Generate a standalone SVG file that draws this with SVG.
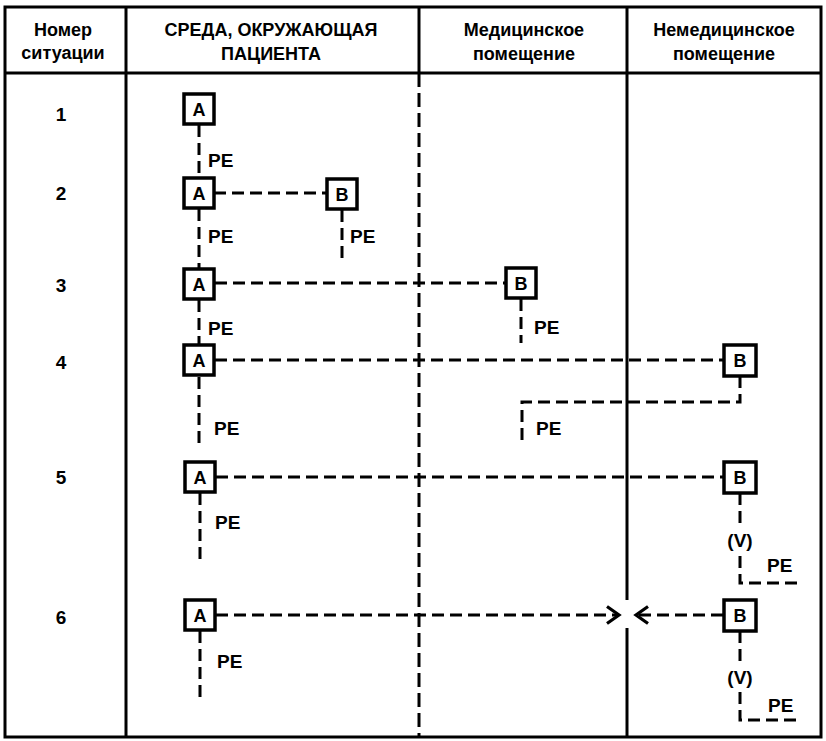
<svg xmlns="http://www.w3.org/2000/svg" width="826" height="741" viewBox="0 0 826 741">
<style>
.frame{fill:none;stroke:#000;stroke-width:3}
.grid{stroke:#000;stroke-width:3;fill:none}
.div{stroke:#000;stroke-width:3;stroke-dasharray:14 6;fill:none}
.dash{fill:none;stroke:#000;stroke-width:3;stroke-dasharray:12 6}
.box{fill:#fff;stroke:#000;stroke-width:3.5}
.t{font-family:"Liberation Sans",Arial,sans-serif;font-weight:bold;fill:#000}
.hdr{font-size:18px;text-anchor:middle}
.num{font-size:19px;text-anchor:middle}
.bl{font-size:18px;text-anchor:middle}
.lbl{font-size:19px}
</style>
<defs>
<marker id="arr" viewBox="-14 -10 16 20" refX="0" refY="0" markerWidth="16" markerHeight="20" markerUnits="userSpaceOnUse" orient="auto" overflow="visible">
<path d="M -12 -8.5 L 0 0 L -12 8.5" fill="none" stroke="#000" stroke-width="3.2" stroke-linejoin="miter"/>
</marker>
</defs>
<rect width="826" height="741" fill="#fff"/>
<g id="table">
<rect class="frame" x="5" y="7" width="816" height="730"/>
<line class="grid" x1="5" y1="73" x2="821" y2="73"/>
<line class="grid" x1="126" y1="7" x2="126" y2="737"/>
<line class="grid" x1="419" y1="7" x2="419" y2="73"/>
<line class="div" x1="419" y1="73" x2="419" y2="737"/>
<line class="grid" x1="627" y1="7" x2="627" y2="600"/>
<line class="grid" x1="627" y1="628" x2="627" y2="737"/>
</g>
<g id="header" class="t hdr">
<text x="63" y="36">Номер</text>
<text x="63" y="59">ситуации</text>
<text x="271" y="36">СРЕДА, ОКРУЖАЮЩАЯ</text>
<text x="271" y="60">ПАЦИЕНТА</text>
<text x="524" y="36">Медицинское</text>
<text x="524" y="60">помещение</text>
<text x="724" y="36">Немедицинское</text>
<text x="724" y="60">помещение</text>
</g>
<g id="rownumbers" class="t num">
<text x="61" y="121">1</text>
<text x="61" y="200">2</text>
<text x="61" y="292">3</text>
<text x="61" y="369">4</text>
<text x="61" y="484">5</text>
<text x="61" y="624">6</text>
</g>
<g id="connectors">
<line class="dash" x1="199" y1="125" x2="199" y2="177"/>
<line class="dash" x1="199" y1="209" x2="199" y2="268"/>
<line class="dash" x1="342" y1="210" x2="342" y2="262"/>
<line class="dash" x1="199" y1="300" x2="199" y2="344"/>
<line class="dash" x1="521" y1="299" x2="521" y2="343"/>
<line class="dash" x1="199" y1="377" x2="199" y2="443"/>
<path class="dash" d="M740 376 V402 H522 V443"/>
<line class="dash" x1="200" y1="493" x2="200" y2="563"/>
<line class="dash" x1="740" y1="493" x2="740" y2="523"/>
<path class="dash" d="M740 556 V583 H798"/>
<line class="dash" x1="200" y1="631" x2="200" y2="702"/>
<line class="dash" x1="740" y1="631" x2="740" y2="662"/>
<path class="dash" d="M740 692 V720 H798"/>
<line class="dash" x1="214" y1="193" x2="326" y2="193"/>
<line class="dash" x1="215" y1="283" x2="505" y2="283"/>
<line class="dash" x1="215" y1="360" x2="723" y2="360"/>
<line class="dash" x1="216" y1="477" x2="723" y2="477"/>
<line class="dash" x1="216" y1="615" x2="619" y2="615" marker-end="url(#arr)"/>
<line class="dash" x1="723" y1="615" x2="636" y2="615" marker-end="url(#arr)"/>
</g>
<g id="A1"><rect class="box" x="184" y="94" width="30" height="30"/><text class="t bl" x="199" y="115.5">A</text></g>
<g id="A2"><rect class="box" x="184" y="178" width="30" height="30"/><text class="t bl" x="199" y="199.5">A</text></g>
<g id="B2"><rect class="box" x="327" y="179" width="30" height="30"/><text class="t bl" x="342" y="200.5">B</text></g>
<g id="A3"><rect class="box" x="184" y="269" width="30" height="30"/><text class="t bl" x="199" y="290.5">A</text></g>
<g id="B3"><rect class="box" x="506" y="268" width="30" height="30"/><text class="t bl" x="521" y="289.5">B</text></g>
<g id="A4"><rect class="box" x="184" y="345" width="30" height="30"/><text class="t bl" x="199" y="366.5">A</text></g>
<g id="B4"><rect class="box" x="724" y="345" width="32" height="31"/><text class="t bl" x="740" y="367">B</text></g>
<g id="A5"><rect class="box" x="185" y="462" width="30" height="30"/><text class="t bl" x="200" y="483.5">A</text></g>
<g id="B5"><rect class="box" x="724" y="462" width="32" height="31"/><text class="t bl" x="740" y="484">B</text></g>
<g id="A6"><rect class="box" x="185" y="600" width="30" height="30"/><text class="t bl" x="200" y="621.5">A</text></g>
<g id="B6"><rect class="box" x="724" y="600" width="32" height="31"/><text class="t bl" x="740" y="622">B</text></g>
<g id="labels" class="t lbl">
<text x="208" y="167">PE</text>
<text x="208" y="243">PE</text>
<text x="350" y="243">PE</text>
<text x="208" y="335">PE</text>
<text x="534" y="334">PE</text>
<text x="214" y="435">PE</text>
<text x="536" y="435">PE</text>
<text x="215" y="529">PE</text>
<text x="767" y="572">PE</text>
<text x="740" y="547" text-anchor="middle">(V)</text>
<text x="217" y="668">PE</text>
<text x="768" y="712">PE</text>
<text x="740" y="684" text-anchor="middle">(V)</text>
</g>
</svg>
